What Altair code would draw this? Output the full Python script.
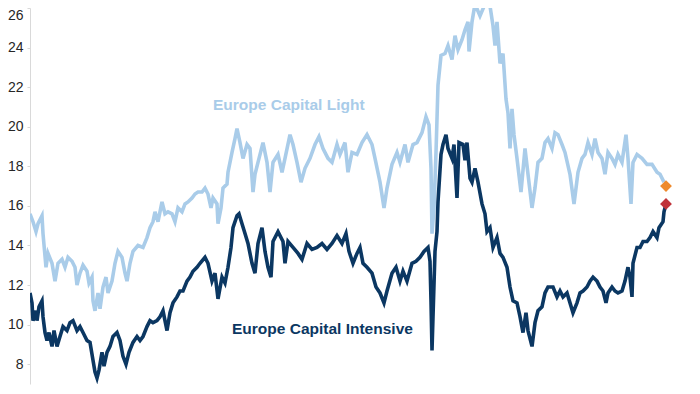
import altair as alt
import pandas as pd

# ---- data (time index, P/E level) ----
light = [
    (2012.20, 15.6), (2012.26, 15.2), (2012.32, 14.7), (2012.36, 15.1), (2012.44, 15.5), (2012.46, 14.6),
    (2012.52, 12.9), (2012.56, 13.6), (2012.64, 13.1), (2012.70, 12.2), (2012.76, 13.1), (2012.84, 13.3),
    (2012.90, 12.9), (2012.96, 13.4), (2013.04, 13.2), (2013.10, 12.9), (2013.14, 12.0), (2013.20, 12.6),
    (2013.26, 13.0), (2013.34, 12.7), (2013.38, 12.1), (2013.44, 12.4), (2013.46, 11.2), (2013.50, 10.7),
    (2013.56, 11.6), (2013.60, 10.8), (2013.66, 11.9), (2013.72, 12.4), (2013.76, 11.6), (2013.84, 12.2),
    (2013.90, 13.1), (2013.96, 13.7), (2014.04, 13.4), (2014.10, 12.6), (2014.14, 12.2), (2014.20, 13.1),
    (2014.26, 13.7), (2014.36, 14.0), (2014.46, 13.9), (2014.54, 14.4), (2014.60, 14.9), (2014.66, 15.2),
    (2014.70, 15.7), (2014.76, 15.2), (2014.84, 16.2), (2014.90, 15.6), (2014.96, 15.7), (2015.04, 15.6),
    (2015.10, 15.2), (2015.16, 15.9), (2015.24, 15.7), (2015.30, 16.1), (2015.36, 16.2), (2015.44, 16.4),
    (2015.50, 16.6), (2015.56, 16.7), (2015.64, 16.7), (2015.70, 16.9), (2015.76, 16.6), (2015.82, 15.9),
    (2015.86, 16.4), (2015.94, 16.1), (2015.96, 15.1), (2016.02, 15.9), (2016.06, 16.9), (2016.14, 17.1),
    (2016.16, 17.7), (2016.24, 18.7), (2016.30, 19.4), (2016.34, 19.9), (2016.40, 19.2), (2016.46, 18.4),
    (2016.54, 19.1), (2016.60, 18.9), (2016.66, 16.7), (2016.70, 17.6), (2016.76, 18.2), (2016.86, 19.2),
    (2016.94, 18.2), (2017.00, 16.7), (2017.06, 18.2), (2017.16, 18.6), (2017.24, 17.7), (2017.30, 18.4),
    (2017.40, 19.6), (2017.46, 19.1), (2017.54, 18.2), (2017.62, 17.2), (2017.70, 17.9), (2017.80, 18.4),
    (2017.90, 19.1), (2017.98, 19.5), (2018.06, 18.9), (2018.16, 18.4), (2018.24, 18.2), (2018.34, 19.1),
    (2018.40, 18.6), (2018.50, 19.2), (2018.56, 17.7), (2018.64, 18.7), (2018.74, 18.6), (2018.84, 19.2),
    (2018.94, 19.6), (2019.04, 19.1), (2019.10, 18.4), (2019.20, 17.2), (2019.28, 15.9), (2019.34, 16.9),
    (2019.44, 18.1), (2019.54, 18.7), (2019.60, 18.2), (2019.70, 19.1), (2019.76, 18.2), (2019.86, 19.1),
    (2019.94, 19.2), (2020.04, 19.7), (2020.12, 20.5), (2020.18, 20.1), (2020.22, 17.9), (2020.24, 14.6),
    (2020.28, 15.9), (2020.32, 18.7), (2020.36, 22.1), (2020.42, 23.6), (2020.50, 23.7), (2020.56, 24.1),
    (2020.64, 23.4), (2020.70, 24.6), (2020.76, 23.9), (2020.84, 24.4), (2020.90, 24.9), (2020.96, 25.3),
    (2020.98, 23.8), (2021.04, 25.3), (2021.10, 26.2), (2021.20, 25.6), (2021.30, 26.2), (2021.36, 26.3),
    (2021.40, 26.1), (2021.46, 25.1), (2021.50, 24.1), (2021.54, 25.3), (2021.60, 23.2), (2021.66, 23.7),
    (2021.72, 21.4), (2021.76, 20.7), (2021.80, 18.9), (2021.84, 20.9), (2021.88, 19.6), (2021.94, 18.4),
    (2022.02, 16.7), (2022.10, 18.9), (2022.16, 17.6), (2022.24, 15.9), (2022.30, 16.9), (2022.36, 18.2),
    (2022.44, 18.4), (2022.50, 19.2), (2022.56, 19.4), (2022.64, 18.9), (2022.70, 19.7), (2022.76, 19.6),
    (2022.84, 19.1), (2022.90, 18.7), (2023.00, 17.6), (2023.08, 16.1), (2023.16, 17.7), (2023.24, 18.4),
    (2023.30, 18.6), (2023.36, 19.2), (2023.44, 18.6), (2023.50, 19.4), (2023.56, 18.7), (2023.64, 18.4),
    (2023.70, 17.6), (2023.76, 18.7), (2023.84, 18.4), (2023.90, 18.1), (2023.96, 18.6), (2024.04, 18.2),
    (2024.12, 19.6), (2024.16, 18.4), (2024.22, 16.1), (2024.26, 18.2), (2024.34, 18.6), (2024.44, 18.4),
    (2024.54, 18.1), (2024.64, 18.1), (2024.74, 17.7), (2024.80, 17.6), (2024.88, 17.2),
]

dark = [
    (2012.20, 11.6), (2012.24, 11.1), (2012.26, 10.2), (2012.32, 10.7), (2012.34, 10.2), (2012.38, 10.9),
    (2012.44, 11.2), (2012.46, 10.4), (2012.50, 9.6), (2012.54, 9.2), (2012.58, 9.6), (2012.64, 8.9),
    (2012.68, 9.7), (2012.74, 8.9), (2012.80, 9.4), (2012.86, 9.9), (2012.94, 9.7), (2013.00, 10.1),
    (2013.06, 10.2), (2013.14, 9.7), (2013.20, 9.9), (2013.26, 9.6), (2013.34, 9.2), (2013.40, 9.1),
    (2013.46, 8.2), (2013.50, 7.6), (2013.54, 7.3), (2013.58, 7.7), (2013.64, 8.6), (2013.68, 7.9),
    (2013.74, 8.6), (2013.80, 8.9), (2013.86, 9.4), (2013.94, 9.6), (2014.00, 9.2), (2014.06, 8.4),
    (2014.12, 8.0), (2014.18, 8.6), (2014.26, 9.1), (2014.34, 9.4), (2014.40, 9.2), (2014.46, 9.4),
    (2014.54, 9.9), (2014.60, 10.2), (2014.66, 10.1), (2014.74, 10.2), (2014.80, 10.4), (2014.86, 10.7),
    (2014.94, 9.7), (2015.00, 10.6), (2015.06, 11.1), (2015.14, 11.4), (2015.20, 11.7), (2015.26, 11.7),
    (2015.34, 12.2), (2015.40, 12.4), (2015.46, 12.7), (2015.54, 12.9), (2015.60, 13.1), (2015.70, 13.4),
    (2015.76, 13.1), (2015.84, 12.2), (2015.90, 12.6), (2015.96, 11.3), (2016.04, 12.4), (2016.10, 12.1),
    (2016.16, 12.9), (2016.22, 13.9), (2016.26, 14.9), (2016.34, 15.5), (2016.38, 15.6), (2016.44, 15.1),
    (2016.50, 14.6), (2016.56, 14.1), (2016.64, 13.1), (2016.70, 12.6), (2016.76, 14.1), (2016.84, 14.9),
    (2016.90, 13.7), (2016.96, 12.9), (2017.02, 12.4), (2017.06, 14.2), (2017.16, 14.7), (2017.26, 14.2),
    (2017.30, 13.1), (2017.36, 14.2), (2017.46, 13.9), (2017.56, 13.6), (2017.64, 13.3), (2017.74, 14.1),
    (2017.84, 13.8), (2017.94, 13.9), (2018.04, 14.1), (2018.14, 13.8), (2018.24, 14.1), (2018.34, 14.5),
    (2018.44, 14.1), (2018.52, 14.6), (2018.58, 13.7), (2018.66, 13.1), (2018.74, 13.6), (2018.80, 13.9),
    (2018.86, 13.1), (2018.94, 12.9), (2019.04, 12.6), (2019.12, 11.9), (2019.20, 11.6), (2019.28, 11.1),
    (2019.34, 11.7), (2019.44, 12.6), (2019.52, 12.9), (2019.60, 12.2), (2019.66, 12.7), (2019.74, 12.2),
    (2019.84, 13.1), (2019.92, 13.2), (2020.00, 13.4), (2020.08, 13.7), (2020.16, 13.9), (2020.20, 13.2),
    (2020.22, 11.2), (2020.24, 8.7), (2020.26, 10.4), (2020.30, 13.7), (2020.34, 14.7), (2020.36, 16.2),
    (2020.42, 18.6), (2020.46, 19.1), (2020.52, 19.6), (2020.56, 18.9), (2020.64, 18.4), (2020.68, 19.1),
    (2020.74, 16.4), (2020.78, 19.2), (2020.86, 19.1), (2020.90, 18.3), (2020.94, 19.2), (2021.00, 17.4),
    (2021.04, 17.2), (2021.10, 17.9), (2021.16, 17.2), (2021.24, 16.1), (2021.30, 15.6), (2021.34, 14.7),
    (2021.40, 14.9), (2021.46, 13.9), (2021.54, 14.4), (2021.60, 13.6), (2021.66, 13.4), (2021.74, 12.9),
    (2021.80, 11.9), (2021.86, 11.2), (2021.94, 11.1), (2022.00, 10.4), (2022.06, 9.6), (2022.12, 10.6),
    (2022.16, 9.7), (2022.24, 8.9), (2022.30, 10.1), (2022.36, 10.7), (2022.44, 10.9), (2022.50, 11.6),
    (2022.56, 11.9), (2022.66, 11.9), (2022.74, 11.4), (2022.80, 11.7), (2022.86, 11.4), (2022.94, 11.6),
    (2023.00, 11.1), (2023.06, 10.6), (2023.14, 11.1), (2023.20, 11.6), (2023.26, 11.7), (2023.34, 11.9),
    (2023.40, 12.2), (2023.46, 12.4), (2023.54, 12.2), (2023.60, 11.9), (2023.66, 11.7), (2023.72, 11.1),
    (2023.76, 11.6), (2023.84, 11.9), (2023.90, 11.7), (2023.96, 11.6), (2024.04, 11.7), (2024.10, 12.2),
    (2024.16, 12.9), (2024.20, 12.4), (2024.24, 11.4), (2024.26, 13.1), (2024.34, 13.9), (2024.40, 13.9),
    (2024.46, 14.2), (2024.54, 14.2), (2024.60, 14.4), (2024.66, 14.7), (2024.74, 14.4), (2024.78, 14.9),
    (2024.86, 15.2), (2024.88, 15.7), (2024.92, 16.1),
]

series_names = ["Europe Capital Light", "Europe Capital Intensive"]
series_colors = ["#a9cce9", "#0b3762"]

end_t = [2024.92, 2024.92]
end_v = [17.0, 16.1]
end_colors = ["#ee8a2c", "#c0333a"]

label_t = [2015.86, 2016.24]
label_v = [21.1, 9.8]

y_ticks = [8, 10, 12, 14, 16, 18, 20, 22, 24, 26]

# ---- tables ----
df_light = pd.DataFrame(light, columns=["t", "v"])
df_dark = pd.DataFrame(dark, columns=["t", "v"])
df_end = pd.DataFrame({"t": end_t, "v": end_v, "c": end_colors})
df_lab = pd.DataFrame({"t": label_t, "v": label_v, "txt": series_names, "c": series_colors})

x_scale = alt.Scale(domain=[2012.2, 2025.0], nice=False, zero=False)
y_scale = alt.Scale(domain=[7.0, 26.0], nice=False, zero=False)

y_axis = alt.Axis(
    values=y_ticks, grid=False, title=None,
    domainColor="#d9d9d9", tickColor="#d9d9d9", tickSize=3,
    labelPadding=4, labelFontSize=14, labelFont="Liberation Sans", labelColor="#262626",
    labelBaseline=alt.condition("datum.value == 26", alt.value("top"), alt.value("middle")),
)

light_line = alt.Chart(df_light).mark_line(strokeWidth=3.6, clip=True, color=series_colors[0]).encode(
    x=alt.X("t:Q", scale=x_scale, axis=None),
    y=alt.Y("v:Q", scale=y_scale, axis=y_axis),
)
dark_line = alt.Chart(df_dark).mark_line(strokeWidth=3.6, clip=True, color=series_colors[1]).encode(
    x=alt.X("t:Q", scale=x_scale, axis=None),
    y=alt.Y("v:Q", scale=y_scale),
)
markers = alt.Chart(df_end).mark_point(shape="diamond", filled=True, size=140, opacity=1).encode(
    x=alt.X("t:Q", scale=x_scale, axis=None),
    y=alt.Y("v:Q", scale=y_scale),
    color=alt.Color("c:N", scale=None),
)
texts = alt.Chart(df_lab).mark_text(
    align="left", baseline="middle", fontSize=15.5, fontWeight="bold", font="Liberation Sans"
).encode(
    x=alt.X("t:Q", scale=x_scale, axis=None),
    y=alt.Y("v:Q", scale=y_scale),
    text="txt:N",
    color=alt.Color("c:N", scale=None),
)

chart = alt.layer(light_line, dark_line, markers, texts).properties(
    width=640, height=376,
    padding={"left": 22, "top": 0, "right": 10, "bottom": 2},
    autosize=alt.AutoSizeParams(type="none"),
    background="white",
).configure_view(stroke=None)

chart.save("out.html", embed_options={"renderer": "svg", "actions": False})
